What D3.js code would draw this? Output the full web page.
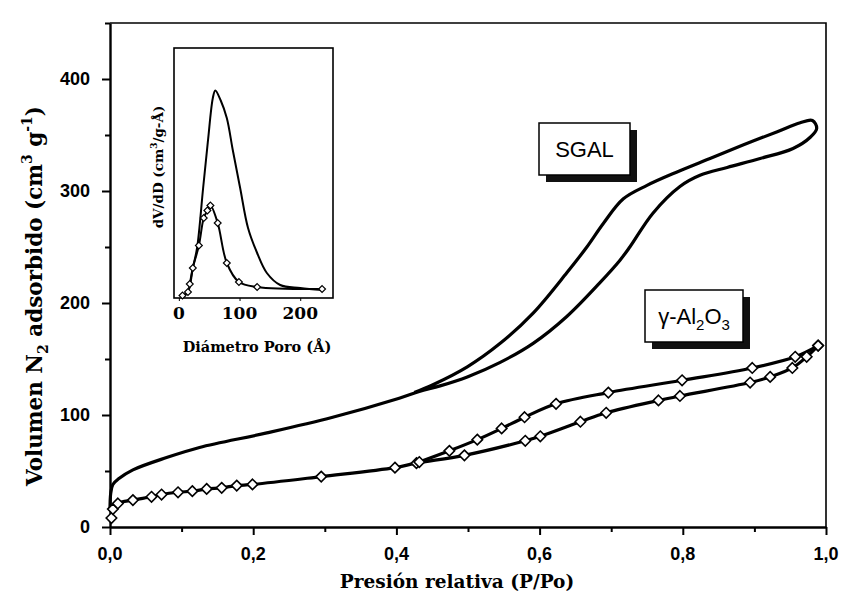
<!DOCTYPE html>
<html>
<head>
<meta charset="utf-8">
<script src="https://cdn.jsdelivr.net/npm/d3@7"></script>
<style>
  body { margin: 0; background: #fff; }
  svg { display: block; }
</style>
</head>
<body>
<div id="chart"></div>
<script>

// --------------------------------------------------------
// data: relative pressure P/Po vs volume adsorbed (cm3/g)

var sgal_ads = [
    [0, 15], [0.001, 30], [0.004, 38], [0.012, 43], [0.032, 51], [0.079, 62],
    [0.125, 71], [0.219, 84], [0.311, 98], [0.404, 115], [0.432, 121],
    [0.461, 126], [0.499, 134], [0.545, 147], [0.591, 164], [0.638, 188],
    [0.684, 218], [0.712, 238], [0.726, 250], [0.758, 280], [0.796, 304],
    [0.824, 314], [0.862, 321], [0.908, 329], [0.954, 338], [0.978, 348],
    [0.987, 356]
];
var sgal_des = [
    [0.981, 363], [0.964, 361], [0.932, 353], [0.884, 341], [0.838, 329],
    [0.792, 317], [0.750, 305], [0.717, 293], [0.689, 271], [0.666, 250],
    [0.638, 227], [0.591, 191], [0.545, 164], [0.499, 143], [0.451, 127],
    [0.425, 120]
];

var alu_ads = [
    [0.002, 8], [0.004, 16], [0.011, 21], [0.032, 24], [0.058, 27], [0.072, 29],
    [0.095, 31], [0.115, 32], [0.135, 34], [0.156, 35], [0.177, 37], [0.199, 38],
    [0.295, 45], [0.398, 53], [0.428, 57], [0.495, 64], [0.580, 77], [0.601, 81],
    [0.657, 94], [0.693, 102], [0.766, 113], [0.796, 117], [0.894, 129],
    [0.922, 134], [0.953, 142], [0.973, 152], [0.989, 162]
];
var alu_des = [
    [0.989, 162], [0.957, 152], [0.897, 142], [0.799, 131], [0.696, 120],
    [0.623, 110], [0.579, 98], [0.547, 88], [0.513, 78], [0.474, 68], [0.432, 58]
];

// inset: pore diameter (A) vs dV/dD (arbitrary units)
var psd_sgal = [
    [6, 0.8], [15, 2.4], [23, 12], [30, 20], [40, 44], [48, 63], [56, 80],
    [60, 83], [69, 79], [79, 72], [89, 59], [101, 44], [114, 28], [129, 18],
    [145, 10], [167, 5.2], [200, 4], [236, 3.2]
];
var psd_alu = [
    [6, 1], [15, 2.4], [18, 5.6], [23, 12], [33, 21], [41, 32], [47, 35],
    [52, 37], [64, 30], [79, 14], [99, 6.4], [129, 4.4], [236, 3.6]
];

var x_ticks       = [0, 0.2, 0.4, 0.6, 0.8, 1.0];
var y_ticks       = [0, 100, 200, 300, 400];
var inset_x_ticks = [0, 100, 200];

// --------------------------------------------------------
var chart_width  = 842;
var chart_height = 596;

var svg = d3.select("#chart")
    .append("svg")
    .attr("width", chart_width)
    .attr("height", chart_height);

var x_scale = d3.scaleLinear().domain([0, 1]).range([110, 826]);
var y_scale = d3.scaleLinear().domain([0, 450]).range([527, 23]);

var ix_scale = d3.scaleLinear().domain([-8, 254]).range([174, 333]);
var iy_scale = d3.scaleLinear().domain([0, 100]).range([298, 48]);

var sans  = "'Liberation Sans', Arial, sans-serif";
var serif = "'DejaVu Serif', serif";

// frame (top + right)
svg.append("path")
    .attr("d", "M110,23H826V527")
    .attr("fill", "none")
    .attr("stroke", "#000")
    .attr("stroke-width", 1.6);

// --------------------------------------------------------
// axes
var x_axis = d3.axisBottom(x_scale)
    .tickValues(d3.range(0, 1.01, 0.1))
    .tickSize(0)
    .tickFormat("");

var gx = svg.append("g")
    .attr("transform", "translate(0," + y_scale(0) + ")")
    .call(x_axis);
gx.select(".domain").attr("stroke-width", 2.4);
gx.selectAll(".tick line")
    .attr("stroke-width", 2)
    .attr("y2", (d) => Math.abs(d * 10 - Math.round(d * 5) * 2) < 0.01 ? 8 : 5);

svg.append("g").selectAll("text")
    .data(x_ticks)
    .enter()
    .append("text")
    .attr("x", (d) => x_scale(d))
    .attr("y", 560)
    .attr("text-anchor", "middle")
    .attr("font-family", sans)
    .attr("font-weight", "bold")
    .attr("font-size", 18)
    .text((d) => d3.format(".1f")(d).replace(".", ","));

var y_axis = d3.axisLeft(y_scale)
    .tickValues(d3.range(0, 451, 50))
    .tickSize(0)
    .tickFormat("");

var gy = svg.append("g")
    .attr("transform", "translate(" + x_scale(0) + ",0)")
    .call(y_axis);
gy.select(".domain").attr("stroke-width", 2.4);
gy.selectAll(".tick line")
    .attr("stroke-width", 2)
    .attr("x2", (d) => d % 100 === 0 ? -8 : -5);

svg.append("g").selectAll("text")
    .data(y_ticks)
    .enter()
    .append("text")
    .attr("x", 90)
    .attr("y", (d) => y_scale(d) + 6)
    .attr("text-anchor", "end")
    .attr("font-family", sans)
    .attr("font-weight", "bold")
    .attr("font-size", 18)
    .text((d) => d);

// axis titles
svg.append("text")
    .attr("x", 457)
    .attr("y", 588)
    .attr("text-anchor", "middle")
    .attr("font-family", serif)
    .attr("font-weight", "bold")
    .attr("font-size", 18.5)
    .text("Presión relativa (P/Po)");

var ytitle = svg.append("text")
    .attr("transform", "translate(42,296) rotate(-90)")
    .attr("text-anchor", "middle")
    .attr("font-family", serif)
    .attr("font-weight", "bold")
    .attr("font-size", 21.5);
ytitle.append("tspan").text("Volumen N");
ytitle.append("tspan").attr("font-size", 14).attr("dy", 6).text("2");
ytitle.append("tspan").attr("dy", -6).text(" adsorbido (cm");
ytitle.append("tspan").attr("font-size", 14).attr("dy", -10).text("3");
ytitle.append("tspan").attr("dy", 10).text(" g");
ytitle.append("tspan").attr("font-size", 14).attr("dy", -10).text("-1");
ytitle.append("tspan").attr("dy", 10).text(")");

// --------------------------------------------------------
// isotherms
var line = d3.line()
    .x((d) => x_scale(d[0]))
    .y((d) => y_scale(d[1]))
    .curve(d3.curveCatmullRom.alpha(0.5));

svg.append("path")
    .attr("d", line(sgal_ads.concat(sgal_des)))
    .attr("fill", "none")
    .attr("stroke", "#000")
    .attr("stroke-width", 3.2);

svg.append("path")
    .attr("d", line(alu_ads))
    .attr("fill", "none")
    .attr("stroke", "#000")
    .attr("stroke-width", 3.2);

svg.append("path")
    .attr("d", line(alu_des))
    .attr("fill", "none")
    .attr("stroke", "#000")
    .attr("stroke-width", 3.2);

var diamond = d3.symbol().type(d3.symbolDiamond2).size(70);

svg.append("g")
    .selectAll("path")
    .data(alu_ads.concat(alu_des))
    .enter()
    .append("path")
    .attr("d", diamond)
    .attr("transform", (d) => "translate(" + x_scale(d[0]) + "," + y_scale(d[1]) + ")")
    .attr("fill", "#fff")
    .attr("stroke", "#000")
    .attr("stroke-width", 1.6);

// --------------------------------------------------------
// label boxes with drop shadow
function label_box(x0, y0, w, h, build) {
    svg.append("rect")
        .attr("x", x0 + 7).attr("y", y0 + 7)
        .attr("width", w).attr("height", h)
        .attr("fill", "#111");
    svg.append("rect")
        .attr("x", x0).attr("y", y0)
        .attr("width", w).attr("height", h)
        .attr("fill", "#fff")
        .attr("stroke", "#000")
        .attr("stroke-width", 1.5);
    var t = svg.append("text")
        .attr("x", x0 + w / 2)
        .attr("y", y0 + h / 2 + 8)
        .attr("text-anchor", "middle")
        .attr("font-family", sans)
        .attr("font-size", 22);
    build(t);
}

label_box(539, 123, 91, 52, (t) => t.text("SGAL"));
label_box(645, 290, 98, 52, (t) => {
    t.append("tspan").text("γ-Al");
    t.append("tspan").attr("font-size", 15).attr("dy", 6).text("2");
    t.append("tspan").attr("dy", -6).text("O");
    t.append("tspan").attr("font-size", 15).attr("dy", 6).text("3");
});

// --------------------------------------------------------
// inset: pore size distribution
svg.append("rect")
    .attr("x", 174).attr("y", 48)
    .attr("width", 159).attr("height", 250)
    .attr("fill", "#fff")
    .attr("stroke", "#000")
    .attr("stroke-width", 1.6);

var gix = svg.append("g")
    .attr("transform", "translate(0,298)")
    .call(d3.axisBottom(ix_scale).tickValues(inset_x_ticks).tickSize(3).tickFormat(""));
gix.select(".domain").remove();

svg.append("g").selectAll("text")
    .data(inset_x_ticks)
    .enter()
    .append("text")
    .attr("x", (d) => ix_scale(d))
    .attr("y", 319)
    .attr("text-anchor", "middle")
    .attr("font-family", serif)
    .attr("font-weight", "bold")
    .attr("font-size", 17)
    .text((d) => d);

svg.append("text")
    .attr("x", 257)
    .attr("y", 352)
    .attr("text-anchor", "middle")
    .attr("font-family", serif)
    .attr("font-weight", "bold")
    .attr("font-size", 14.5)
    .text("Diámetro Poro (Å)");

var iytitle = svg.append("text")
    .attr("transform", "translate(163,167) rotate(-90)")
    .attr("text-anchor", "middle")
    .attr("font-family", serif)
    .attr("font-weight", "bold")
    .attr("font-size", 13.5);
iytitle.append("tspan").text("dV/dD (cm");
iytitle.append("tspan").attr("font-size", 9).attr("dy", -6).text("3");
iytitle.append("tspan").attr("dy", 6).text("/g-Å)");

var iline = d3.line()
    .x((d) => ix_scale(d[0]))
    .y((d) => iy_scale(d[1]))
    .curve(d3.curveCatmullRom.alpha(0.5));

svg.append("path")
    .attr("d", iline(psd_sgal))
    .attr("fill", "none")
    .attr("stroke", "#000")
    .attr("stroke-width", 2);

svg.append("path")
    .attr("d", iline(psd_alu))
    .attr("fill", "none")
    .attr("stroke", "#000")
    .attr("stroke-width", 2);

svg.append("g")
    .selectAll("path")
    .data(psd_alu)
    .enter()
    .append("path")
    .attr("d", d3.symbol().type(d3.symbolDiamond2).size(30))
    .attr("transform", (d) => "translate(" + ix_scale(d[0]) + "," + iy_scale(d[1]) + ")")
    .attr("fill", "#fff")
    .attr("stroke", "#000")
    .attr("stroke-width", 1.2);

</script>
</body>
</html>
